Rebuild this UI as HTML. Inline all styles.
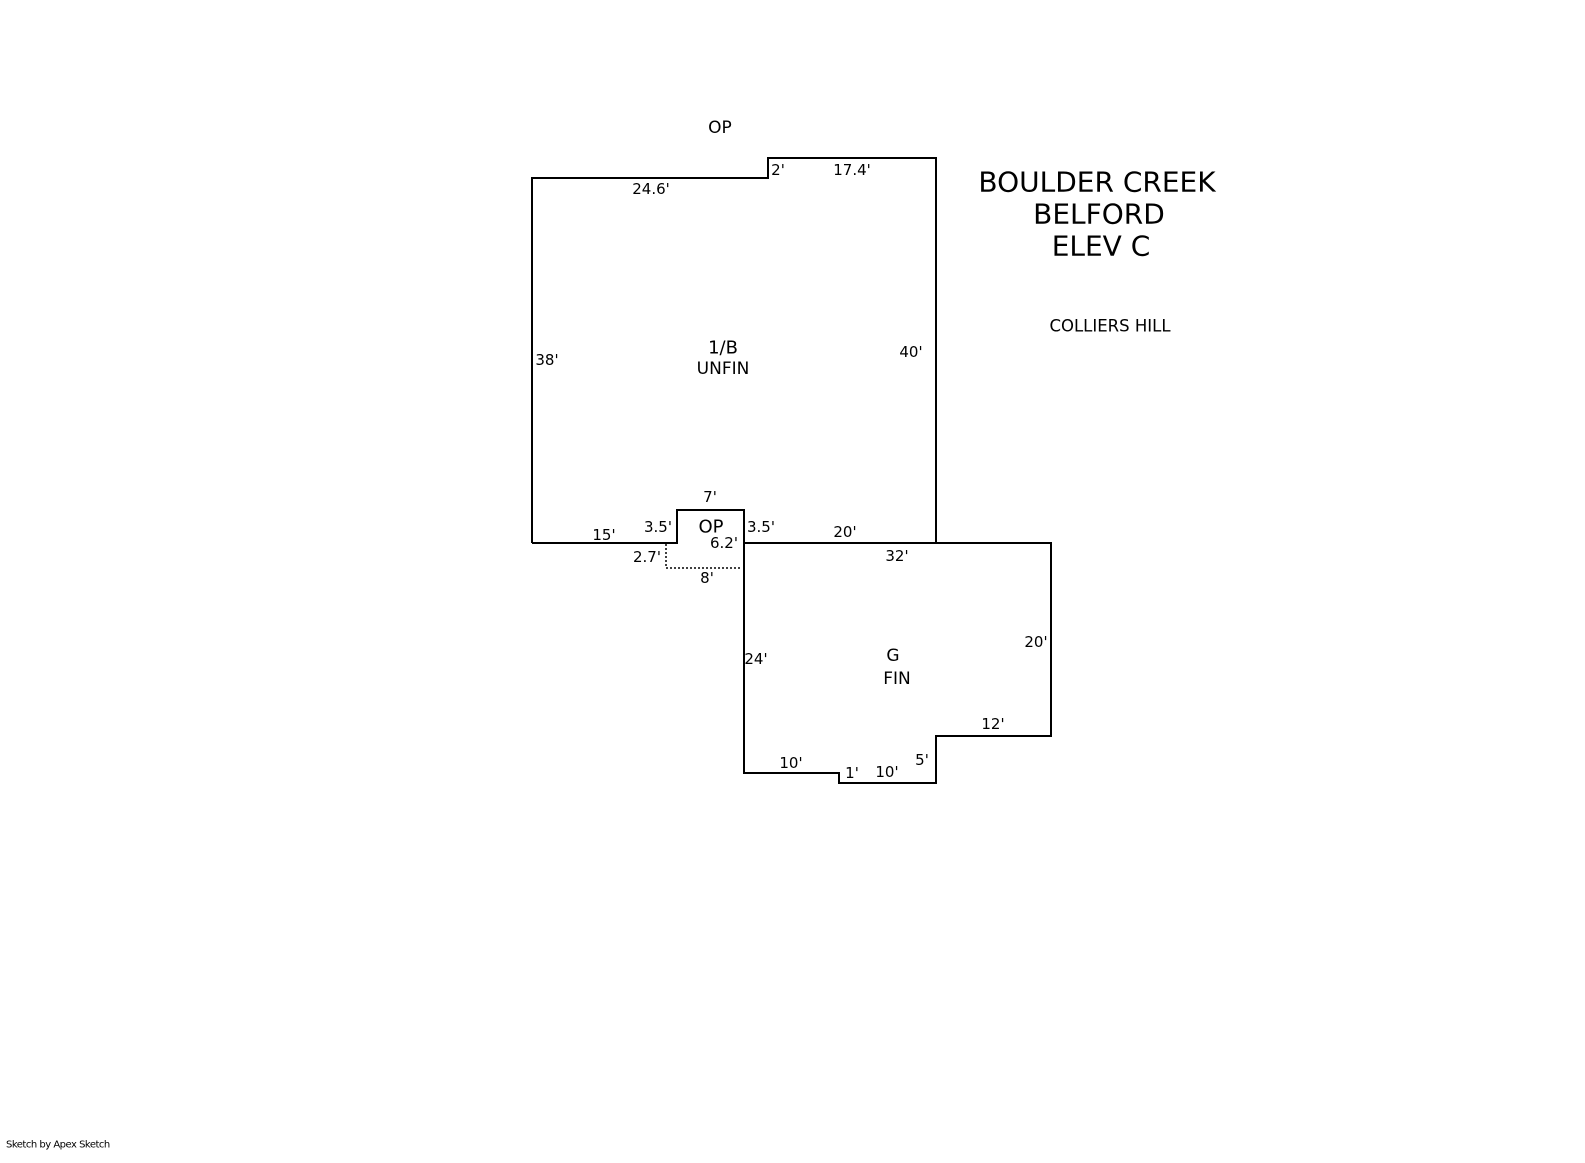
<!DOCTYPE html>
<html><head><meta charset="utf-8"><style>
html,body{margin:0;padding:0;background:#fff;}
svg{display:block;}
text{font-family:"DejaVu Sans","Liberation Sans",sans-serif;fill:#000;dominant-baseline:central;text-anchor:middle;}
</style></head><body>
<svg width="1585" height="1163" viewBox="0 0 1585 1163" xmlns="http://www.w3.org/2000/svg">
<g fill="none" stroke="#000" stroke-width="2">
<path d="M532,543 L532,178 L768,178 L768,158 L936,158 L936,543"/>
<path d="M532,543 L677,543 L677,510 L744,510 L744,543 L1051,543 L1051,736 L936,736 L936,783 L839,783 L839,773 L744,773 L744,543"/>
</g>
<path d="M666,544 L666,568 L742,568" fill="none" stroke="#000" stroke-width="1.5" stroke-dasharray="2,2"/>
<g font-size="15">
<text x="720" y="128" font-size="17">OP</text>
<text x="651" y="189">24.6'</text>
<text x="778" y="170">2'</text>
<text x="852" y="170">17.4'</text>
<text x="547" y="360">38'</text>
<text x="911" y="352">40'</text>
<text x="723" y="348" font-size="18">1/B</text>
<text x="723" y="369" font-size="17">UNFIN</text>
<text x="710" y="497">7'</text>
<text x="658" y="527">3.5'</text>
<text x="711" y="527" font-size="18">OP</text>
<text x="761" y="527">3.5'</text>
<text x="724" y="543">6.2'</text>
<text x="604" y="535">15'</text>
<text x="845" y="532">20'</text>
<text x="647" y="557">2.7'</text>
<text x="897" y="556">32'</text>
<text x="707" y="578">8'</text>
<text x="756" y="659">24'</text>
<text x="893" y="656" font-size="17">G</text>
<text x="897" y="679" font-size="17">FIN</text>
<text x="1036" y="642">20'</text>
<text x="993" y="724">12'</text>
<text x="791" y="763">10'</text>
<text x="852" y="773">1'</text>
<text x="887" y="772">10'</text>
<text x="922" y="760">5'</text>
</g>
<text x="1097" y="182" font-size="28">BOULDER CREEK</text>
<text x="1099" y="214" font-size="28">BELFORD</text>
<text x="1101" y="246" font-size="28">ELEV C</text>
<text x="1110" y="326" font-size="16.5">COLLIERS HILL</text>
<text x="6" y="1145" font-size="10" style="text-anchor:start;letter-spacing:-0.5px">Sketch by Apex Sketch</text>
</svg>
</body></html>
